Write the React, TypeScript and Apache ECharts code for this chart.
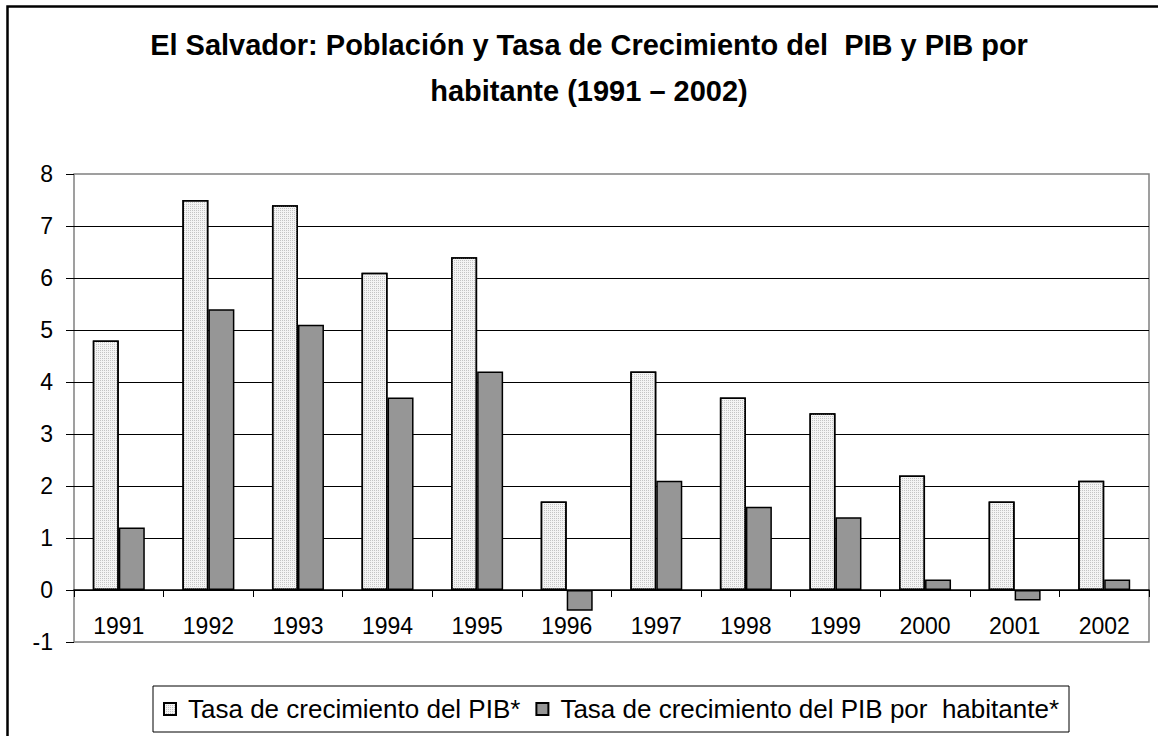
import React, { useEffect, useRef } from "react";
import * as echarts from "echarts";

const years = ["1991", "1992", "1993", "1994", "1995", "1996", "1997", "1998", "1999", "2000", "2001", "2002"];
const pibGrowth = [4.8, 7.5, 7.4, 6.1, 6.4, 1.7, 4.2, 3.7, 3.4, 2.2, 1.7, 2.1];
const pibPerCapitaGrowth = [1.2, 5.4, 5.1, 3.7, 4.2, -0.4, 2.1, 1.6, 1.4, 0.2, -0.2, 0.2];
const seriesNames = ["Tasa de crecimiento del PIB*", "Tasa de crecimiento del PIB por  habitante*"];
const titleText = "El Salvador: Población y Tasa de Crecimiento del  PIB y PIB por\nhabitante (1991 – 2002)";

export default function App() {
  const ref = useRef<HTMLDivElement>(null);
  useEffect(() => {
    if (!ref.current) return;
    const chart = echarts.init(ref.current, null, { renderer: "svg" });
    const font = "Arial, 'Liberation Sans', sans-serif";
    chart.setOption({
      animation: false,
      backgroundColor: "#ffffff",
      textStyle: { fontFamily: font, color: "#000" },
      title: {
        text: titleText,
        left: 589,
        top: 22,
        padding: 0,
        textAlign: "center",
        textStyle: { fontFamily: font, fontSize: 29, fontWeight: "bold", color: "#000", lineHeight: 46 },
      },
      graphic: [
        {
          type: "rect",
          shape: { x: 7.5, y: 6.5, width: 1300, height: 900 },
          style: { fill: "none", stroke: "#000", lineWidth: 2.5 },
          silent: true,
        },
      ],
      legend: {
        left: 153,
        top: 686,
        orient: "horizontal",
        borderColor: "#000",
        borderWidth: 1,
        padding: [10, 10, 10, 10],
        itemGap: 15,
        itemWidth: 12,
        itemHeight: 12,
        icon: "rect",
        textStyle: { fontFamily: font, fontSize: 26, color: "#000", padding: [0, 0, 0, 7], lineHeight: 26 },
        data: seriesNames,
      },
      grid: {
        left: 74,
        right: 9,
        top: 174,
        bottom: 94,
        show: true,
        borderColor: "#808080",
        borderWidth: 1.5,
        backgroundColor: "transparent",
      },
      xAxis: {
        type: "category",
        data: years,
        axisLine: { onZero: true, lineStyle: { color: "#000", width: 1.5 } },
        axisTick: { show: true, length: 7, lineStyle: { color: "#000", width: 1 } },
        axisLabel: { fontFamily: font, fontSize: 23, color: "#000", margin: -28 },
      },
      yAxis: {
        type: "value",
        min: -1,
        max: 8,
        interval: 1,
        axisLine: { show: false },
        axisTick: { show: true, length: 8, lineStyle: { color: "#000", width: 1 } },
        axisLabel: { fontFamily: font, fontSize: 23, color: "#000", margin: 21 },
        splitLine: { show: true, showMinLine: false, showMaxLine: false, lineStyle: { color: "#000", width: 1 } },
      },
      series: [
        {
          name: seriesNames[0],
          type: "bar",
          data: pibGrowth,
          barWidth: 26,
          barGap: "0%",
          itemStyle: {
            color: "#f4f4f4",
            borderColor: "#000",
            borderWidth: 1.5,
            decal: {
              symbol: "rect",
              symbolSize: 1,
              dashArrayX: [1, 1],
              dashArrayY: [1, 1],
              color: "#c4c4c4",
            },
          },
        },
        {
          name: seriesNames[1],
          type: "bar",
          data: pibPerCapitaGrowth,
          barWidth: 26,
          barGap: "0%",
          itemStyle: { color: "#969696", borderColor: "#000", borderWidth: 1.5 },
        },
      ],
    });
    return () => chart.dispose();
  }, []);
  return <div ref={ref} style={{ position: "fixed", left: 0, top: 0, width: 1158, height: 736 }} />;
}
